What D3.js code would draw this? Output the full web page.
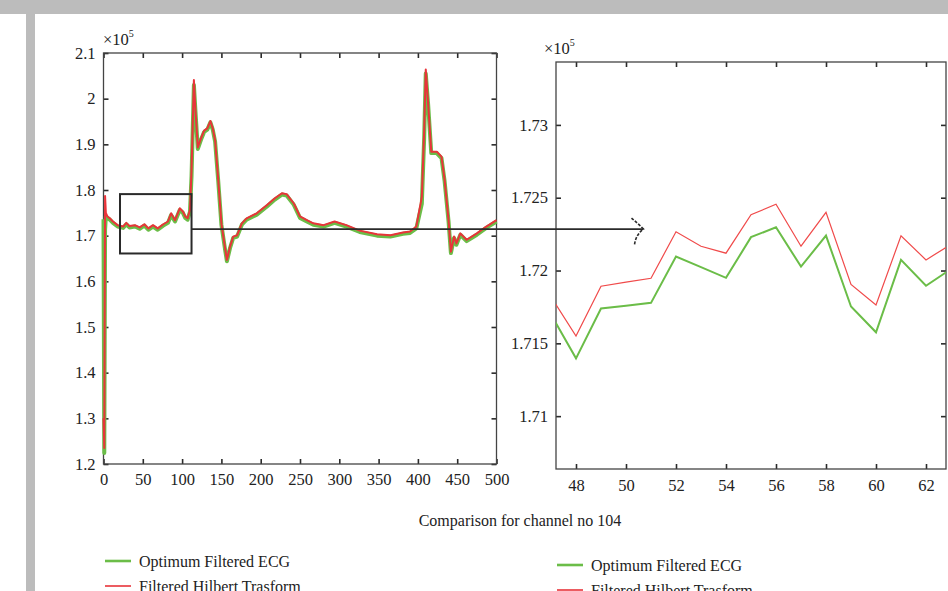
<!DOCTYPE html>
<html>
<head>
<meta charset="utf-8">
<script src="https://cdn.jsdelivr.net/npm/d3@7"></script>
<style>
  body { margin: 0; background: #fff; }
  svg { display: block; }
  text { font-family: "Liberation Serif", "DejaVu Serif", serif; fill: #222; }
</style>
</head>
<body>
<div id="container"></div>
<script>
/* DATA (all values in units of x10^5) */
// full record, channel 104
const ecgSamples = [0, 1, 2, 3, 5, 8, 12, 18, 25, 29, 33, 40, 46, 52, 57, 63, 69, 76, 82, 86,
  91, 97, 101, 104, 107, 110, 112, 115, 117, 120, 124, 128, 132, 136, 139, 142, 146, 150, 155, 157,
  161, 165, 170, 176, 182, 195, 208, 218, 227, 233, 242, 250, 260, 267, 280, 294, 309, 326, 348, 365,
  381, 390, 398, 405, 408, 410, 413, 417, 424, 430, 434, 439, 442, 446, 449, 454, 462, 475, 487, 500];
const hilbertEcg = [1.300, 1.235, 1.787, 1.750, 1.742, 1.738, 1.731, 1.723, 1.720, 1.728, 1.721, 1.723, 1.718, 1.725, 1.716, 1.723, 1.716, 1.725, 1.731, 1.749,
  1.734, 1.760, 1.753, 1.742, 1.738, 1.756, 1.844, 2.041, 1.975, 1.893, 1.913, 1.930, 1.935, 1.951, 1.935, 1.909, 1.822, 1.727, 1.669, 1.647,
  1.676, 1.698, 1.701, 1.727, 1.738, 1.749, 1.767, 1.782, 1.793, 1.791, 1.771, 1.742, 1.733, 1.727, 1.723, 1.731, 1.723, 1.711, 1.703, 1.701,
  1.707, 1.709, 1.720, 1.785, 1.931, 2.064, 1.990, 1.884, 1.884, 1.873, 1.822, 1.734, 1.665, 1.698, 1.683, 1.705, 1.691, 1.705, 1.720, 1.734];
const optimumEcg = [1.736, 1.224, 1.712, 1.742, 1.739, 1.735, 1.728, 1.720, 1.717, 1.725, 1.718, 1.720, 1.715, 1.722, 1.713, 1.720, 1.713, 1.722, 1.728, 1.745,
  1.731, 1.756, 1.750, 1.739, 1.735, 1.752, 1.830, 2.030, 1.972, 1.890, 1.910, 1.927, 1.932, 1.948, 1.932, 1.906, 1.819, 1.724, 1.666, 1.644,
  1.673, 1.695, 1.698, 1.724, 1.735, 1.746, 1.764, 1.779, 1.790, 1.788, 1.768, 1.739, 1.730, 1.724, 1.720, 1.728, 1.720, 1.708, 1.700, 1.698,
  1.704, 1.706, 1.716, 1.770, 1.915, 2.055, 1.988, 1.881, 1.881, 1.870, 1.819, 1.731, 1.662, 1.695, 1.680, 1.702, 1.688, 1.702, 1.717, 1.731];

// zoomed window
const zoomSamples = [47, 48, 49, 50, 51, 52, 53, 54, 55, 56, 57, 58, 59, 60, 61, 62, 63];
const zoomHilbert = [1.71819, 1.7155, 1.71892, 1.7192, 1.71947, 1.72266, 1.72167, 1.72119, 1.72383,
  1.72455, 1.72167, 1.7240, 1.71904, 1.71764, 1.72238, 1.72073, 1.7218];
const zoomOptimum = [1.71699, 1.71397, 1.71739, 1.71758, 1.71778, 1.72096, 1.72023, 1.7195, 1.72229,
  1.72297, 1.72027, 1.7224, 1.71753, 1.71576, 1.72073, 1.71895, 1.7201];

// ticks
const mainXTicks = [0, 50, 100, 150, 200, 250, 300, 350, 400, 450, 500];
const mainYTicks = [1.2, 1.3, 1.4, 1.5, 1.6, 1.7, 1.8, 1.9, 2.0, 2.1];
const mainYLabels = ["1.2", "1.3", "1.4", "1.5", "1.6", "1.7", "1.8", "1.9", "2", "2.1"];
const zoomXTicks = [48, 50, 52, 54, 56, 58, 60, 62];
const zoomYTicks = [1.71, 1.715, 1.72, 1.725, 1.73];
const zoomYLabels = ["1.71", "1.715", "1.72", "1.725", "1.73"];

// highlighted window on the full record + connector
const boxSamples = [21, 112];
const boxValues = [1.661, 1.791];
const connectorValue = 1.7145;
const connectorEnd = 50.7;

const seriesNames = ["Optimum Filtered ECG", "Filtered Hilbert Trasform"];
const title = "Comparison for channel no 104";

/* CONSTANTS */
const width = 948, height = 591;
const green = "#6bbd48", red = "#e8343a", ink = "#2a2a2a";
const tickFont = 16.5;

/* SCALES */
const xMain = d3.scaleLinear().domain([0, 500]).range([103.5, 496.5]);
const yMain = d3.scaleLinear().domain([1.2, 2.1]).range([464, 53]);
const xZoom = d3.scaleLinear().domain([47.2, 62.8]).range([556, 946]);
const yZoom = d3.scaleLinear().domain([1.70637, 1.73432]).range([469, 62]);

const svg = d3.select("#container")
  .append("svg")
  .attr("width", width)
  .attr("height", height);

// page background bits (scanned page edge)
svg.append("rect").attr("x", 0).attr("y", 0).attr("width", width).attr("height", 14).attr("fill", "#bcbcbc");
svg.append("rect").attr("x", 26).attr("y", 14).attr("width", 9).attr("height", height - 14).attr("fill", "#bcbcbc");

/* PANEL HELPER */
function drawFrame(xs, ys, xTicks, yTicks, xLabels, yLabels, xPad) {
  const [x0, x1] = xs.range();
  const [y0, y1] = ys.range();
  const g = svg.append("g");

  const bottom = d3.axisBottom(xs).tickValues(xTicks).tickSize(-5).tickPadding(xPad)
    .tickFormat((d, i) => xLabels[i]);
  const top = d3.axisTop(xs).tickValues(xTicks).tickSize(-5).tickFormat("");
  const left = d3.axisLeft(ys).tickValues(yTicks).tickSize(-5).tickPadding(8)
    .tickFormat((d, i) => yLabels[i]);
  const right = d3.axisRight(ys).tickValues(yTicks).tickSize(-5).tickFormat("");

  g.append("g").attr("transform", `translate(0,${y0})`).call(bottom);
  g.append("g").attr("transform", `translate(0,${y1})`).call(top);
  g.append("g").attr("transform", `translate(${x0},0)`).call(left);
  g.append("g").attr("transform", `translate(${x1},0)`).call(right);

  g.selectAll(".domain").remove();
  g.selectAll(".tick line").attr("stroke", ink).attr("stroke-width", 1.6);
  g.selectAll(".tick text").attr("font-size", tickFont).attr("fill", ink)
    .attr("font-family", "'Liberation Serif', 'DejaVu Serif', serif");

  g.append("rect")
    .attr("x", x0).attr("y", y1)
    .attr("width", x1 - x0).attr("height", y0 - y1)
    .attr("fill", "none").attr("stroke", "#444").attr("stroke-width", 1.3);
  return g;
}

/* LEFT PANEL: full record */
drawFrame(xMain, yMain, mainXTicks, mainYTicks, mainXTicks.map(String), mainYLabels, 9);

const mainLine = vals => d3.line()
  .x((d, i) => xMain(ecgSamples[i]))
  .y((d, i) => yMain(vals[i]))(vals);

svg.append("path").attr("d", mainLine(optimumEcg))
  .attr("fill", "none").attr("stroke", green).attr("stroke-width", 4).attr("stroke-linejoin", "round");
svg.append("path").attr("d", mainLine(hilbertEcg))
  .attr("fill", "none").attr("stroke", red).attr("stroke-width", 2).attr("stroke-linejoin", "round");

// highlight box
svg.append("rect")
  .attr("x", xMain(boxSamples[0])).attr("y", yMain(boxValues[1]))
  .attr("width", xMain(boxSamples[1]) - xMain(boxSamples[0]))
  .attr("height", yMain(boxValues[0]) - yMain(boxValues[1]))
  .attr("fill", "none").attr("stroke", ink).attr("stroke-width", 2);

/* RIGHT PANEL: zoomed window */
svg.append("clipPath").attr("id", "zoomClip")
  .append("rect")
  .attr("x", xZoom.range()[0]).attr("y", yZoom.range()[1])
  .attr("width", xZoom.range()[1] - xZoom.range()[0])
  .attr("height", yZoom.range()[0] - yZoom.range()[1]);

drawFrame(xZoom, yZoom, zoomXTicks, zoomYTicks, zoomXTicks.map(String), zoomYLabels, 10);

const zoomLine = vals => d3.line()
  .x((d, i) => xZoom(zoomSamples[i]))
  .y((d, i) => yZoom(vals[i]))(vals);

svg.append("path").attr("d", zoomLine(zoomOptimum)).attr("clip-path", "url(#zoomClip)")
  .attr("fill", "none").attr("stroke", green).attr("stroke-width", 2);
svg.append("path").attr("d", zoomLine(zoomHilbert)).attr("clip-path", "url(#zoomClip)")
  .attr("fill", "none").attr("stroke", "#f04a4a").attr("stroke-width", 1.2);

/* CONNECTOR ARROW */
const cy = yMain(connectorValue);
const cx0 = xMain(boxSamples[1]), cx1 = xZoom(connectorEnd);
svg.append("line")
  .attr("x1", cx0).attr("x2", cx1).attr("y1", cy).attr("y2", cy)
  .attr("stroke", ink).attr("stroke-width", 1.8);
svg.append("path")
  .attr("d", `M${cx1 - 12},${cy - 11} Q${cx1 - 6},${cy - 6} ${cx1},${cy} Q${cx1 - 8},${cy + 6} ${cx1 - 9},${cy + 16}`)
  .attr("fill", "none").attr("stroke", ink).attr("stroke-width", 1.6)
  .attr("stroke-dasharray", "3,1.5");

/* x10^5 MULTIPLIERS */
function multiplier(x, y) {
  const t = svg.append("text").attr("x", x).attr("y", y).attr("font-size", 16.5).attr("fill", ink);
  t.append("tspan").text("\u00d710");
  t.append("tspan").attr("dy", -8).attr("font-size", 10).text("5");
}
multiplier(103, 45);
multiplier(544, 54);

/* TITLE */
svg.append("text")
  .attr("x", 520).attr("y", 526)
  .attr("text-anchor", "middle")
  .attr("font-size", 16).attr("fill", ink)
  .text(title);

/* LEGENDS */
function legend(x, y) {
  const colors = [green, red];
  const g = svg.append("g").attr("transform", `translate(${x},${y})`);
  g.selectAll("line").data(seriesNames).join("line")
    .attr("x1", 0).attr("x2", 26)
    .attr("y1", (d, i) => i * 25).attr("y2", (d, i) => i * 25)
    .attr("stroke", (d, i) => colors[i]).attr("stroke-width", (d, i) => i ? 1.6 : 2.6);
  g.selectAll("text").data(seriesNames).join("text")
    .attr("x", 34).attr("y", (d, i) => i * 25 + 6)
    .attr("font-size", 16).attr("fill", ink)
    .text(d => d);
}
legend(105, 561);
legend(557, 565);
</script>
</body>
</html>
